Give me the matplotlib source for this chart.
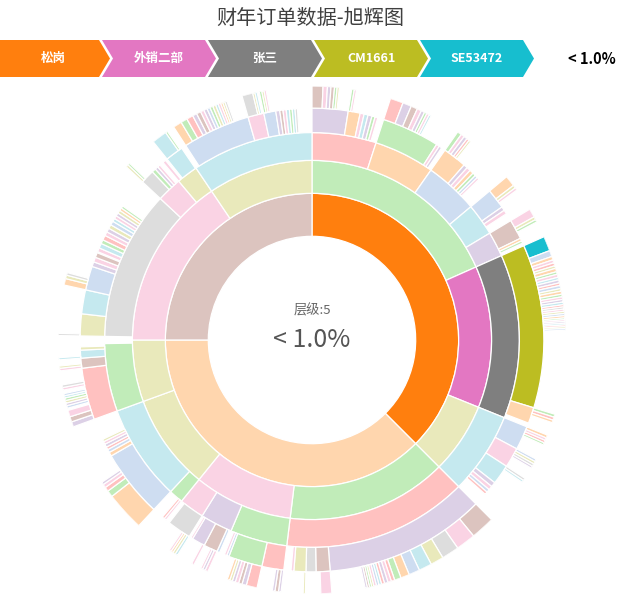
import numpy as np
import matplotlib.pyplot as plt
from matplotlib.colors import to_rgb
from matplotlib.patches import Polygon

plt.rcParams['font.family'] = ['Noto Sans CJK SC', 'DejaVu Sans']

# Text
title = '财年订单数据-旭辉图'
path_names = ['松岗', '外销二部', '张三', 'CM1661', 'SE53472']
path_keys = ['O', 'M', 'G', 'Y', 'C']
path_share = '< 1.0%'
depth_label = '层级:5'

# Colours: upper case = highlighted path, lower case = faded, '-' = dropped arc
palette = {'O': '#ff7f0e', 'M': '#e377c2', 'G': '#7f7f7f', 'Y': '#bcbd22', 'C': '#17becf',
           'p': '#ffbb78', 'g': '#98df8a', 's': '#ff9896', 'l': '#c5b0d5', 'r': '#c49c94',
           'k': '#f7b6d2', 'a': '#c7c7c7', 'y': '#dbdb8d', 'c': '#9edae5', 'b': '#aec7e8'}

# Each ring: one group of (degrees, colour) per parent arc of the ring inside
ring1 = [[(135, 'O'), (135, 'p'), (90, 'r')]]

ring2 = [
    [(66, 'g'), (46, 'M'), (23, 'y')],
    [(52, 'g'), (32, 'k'), (31, 'y'), (20, 'y')],
    [(56, 'k'), (34, 'y')],
]

ring3 = [
    [(18, 's'), (17, 'p'), (15, 'b'), (9, 'c'), (7, 'l')],
    [(46, 'G')],
    [(23, 'c')],
    [(52, 's')],
    [(16, 'g'), (9, 'l'), (7, 'k')],
    [(4, 'g'), (27, 'c')],
    [(19, 'g')],
    [(1, '-'), (42, 'a'), (7, 'k'), (6, 'y')],
    [(34, 'c')],
]

ring4 = [
    [(9, 'l'), (3, 'p'), (1, 'k'), (1, 'c'), (1, 'l'), (0.8, 'g'), (0.7, 'k')],
    [(14.5, 'g'), (0.8, 'k'), (0.7, 'l')],
    [(6, 'p'), (1, 'l'), (1, 'k'), (1, 'p'), (0.8, 'g'), (0.7, 'b'), (0.6, 'k')],
    [(5, 'b'), (1, 'l'), (1, 'k')],
    [(5, 'r'), (0.7, 'p'), (0.6, 'g')],
    [(41, 'Y'), (4, 'p')],
    [(6, 'b'), (5, 'k'), (5, 'c'), (1.2, 'l'), (1, 'k'), (0.8, 'b'), (0.7, 's')],
    [(40.5, 'l'), (3.5, 'r'), (2.5, 'a'), (3, 'y'), (0.7, 'k')],
    [(5.5, 's'), (8.5, 'g'), (0.6, 'b'), (0.6, 'k')],
    [(0.5, '-'), (0.7, 'b'), (3.5, 'r'), (3.3, 'l'), (0.5, 'k')],
    [(6, 'a')],
    [(0.6, 'k'), (0.6, 's')],
    [(17, 'b'), (1, 'p'), (0.8, 'b'), (0.7, 's'), (0.8, 'l'), (0.7, 'k'), (0.6, 'y')],
    [(13, 's'), (2.5, 'r'), (2, 'c'), (0.8, 'y')],
    [(5.5, 'y'), (6, 'c'), (6, 'b'), (1.2, 'l'), (1.2, 'k'), (1.2, 'r'), (0.3, '-'),
     (1, 'k'), (1.2, 'c'), (1, 'g'), (1.2, 's'), (1, 'k'), (1, 'l'), (1, 'y'), (1, 'b'),
     (0.8, 'c'), (0.8, 'k'), (0.8, 'l'), (0.8, 'y'), (0.7, 'p'), (0.6, 'g')],
    [(3.5, 'a'), (1, 'g'), (0.8, 'l'), (0.7, 'k')],
    [(0.8, 'k'), (0.5, '-'), (4.5, 'c')],
    [(1, '-'), (17, 'b'), (4, 'k'), (3, 'b'), (1, 'l'), (0.8, 'r'), (0.8, 'k'), (0.8, 'c'),
     (0.7, 'g'), (0.7, 'c'), (0.6, 'a')],
]

# outer ring: one group per ring-4 arc of at least 2 degrees
ring5 = [
    [(2.5, 'r'), (1, 'k'), (0.8, 'l'), (0.8, 'r'), (0.6, 'g'), (0.5, 'y')],
    [(0.6, 'g'), (0.5, 'k')],
    [(3, 's'), (2, 'l'), (1.5, 'r'), (1, 'k'), (0.8, 'l'), (0.6, 'g'), (0.6, 'k'), (0.5, 'c')],
    [(1, 'g'), (0.8, 'k'), (0.8, 'l'), (0.6, 's'), (0.5, 'y')],
    [(2.5, 'p'), (0.7, 'y'), (0.6, 'k')],
    [(2, 'k'), (0.7, 'y'), (0.6, 'g')],
    [(3.4, 'C'), (1.4, 'b'), (0.8, 'p'), (0.7, 'k'), (0.7, 's'), (0.6, 'y'), (0.8, 'p'),
     (0.6, 'g'), (0.7, 'k'), (0.6, 'c'), (0.7, 'l'), (0.6, 's'), (0.7, 'b'), (0.6, 'y'),
     (0.7, 'p'), (0.6, 'g'), (0.6, 'k'), (0.6, 'l'), (0.6, 'c'), (0.5, 's'), (0.5, 'a'),
     (0.5, 'k'), (0.5, 'y'), (0.5, 'b'), (0.5, 'p'), (0.4, 'g'), (0.4, 'k'), (0.4, 'l'),
     (0.4, 'c'), (0.4, 's'), (0.4, 'y'), (0.4, 'b')],
    [(0.7, 'g'), (0.7, 's'), (0.6, 'p')],
    [(0.7, 'p'), (0.6, 'k'), (0.6, 's'), (0.5, 'g')],
    [(0.6, 'b'), (0.6, 'y'), (0.6, 'a'), (0.5, 'l')],
    [(0.6, 'a'), (0.5, 'c')],
    [(5.5, 'r'), (4.5, 'k'), (4, 'a'), (3, 'y'), (3, 'c'), (2.5, 'b'), (2, 'p'), (1.5, 'g'),
     (0.8, 's'), (0.8, 'k'), (0.8, 'l'), (0.7, 's'), (0.6, 'c'), (0.6, 'b'), (0.6, 'k'),
     (0.5, 'y'), (0.5, 'g'), (0.5, 'r'), (0.5, 'l')],
    [(2.5, 'k')],
    [],
    [(0.5, 'y')],
    [(0.6, 'l'), (0.8, 'r'), (0.6, 'l')],
    [(2.5, 's'), (1, 'l'), (0.8, 'r'), (0.8, 'k'), (0.7, 'l'), (0.6, 'y'), (0.6, 'p')],
    [(0.7, 'k'), (0.6, 'l'), (0.5, 'k')],
    [(0.6, 'k')],
    [(0.6, 'c'), (0.6, 'y'), (0.5, 'p'), (0.5, 'k')],
    [(9, 'p'), (1.5, 'g'), (1, 's'), (0.8, 'k'), (0.6, 'l')],
    [(1.2, 'l'), (1.2, 'r'), (1.5, 'k'), (0.5, '-'), (0.6, 'b'), (0.6, 'l'), (0.6, 'y'),
     (0.6, 'g'), (0.5, 'c'), (0.5, 'b'), (0.8, '-'), (0.6, 'k'), (0.6, 'a')],
    [(0.6, 'k'), (0.5, 'y')],
    [(0.5, 'c')],
    [(0.5, 'a')],
    [],
    [(1.5, 'p'), (0.8, 'y'), (0.6, 'a')],
    [(0.6, 'y'), (0.5, 'g')],
    [(3.5, 'c'), (0.5, 'g')],
    [(2, 'p'), (1.5, 'g'), (1.5, 's'), (1, 'l'), (1, 'r'), (0.8, 'k'), (0.8, 'l'), (0.7, 'b'),
     (0.7, 'g'), (0.7, 'y'), (0.6, 'c'), (0.6, 'k'), (0.5, 'p'), (0.5, 'y'), (0.5, 'a')],
    [(2.5, 'a'), (0.5, 'y'), (0.5, 'c')],
    [(0.6, 'g'), (0.5, 'y'), (0.5, 'k')],
]


def colour(key):
    rgb = np.array(to_rgb(palette[key]))
    if key.islower():
        rgb = rgb * 0.6 + 0.4
    return rgb


fig = plt.figure(figsize=(6.19, 6.05), dpi=100)

# sunburst, centre at (312, 340) px, outer radius 254 px
W, H = 619, 605
cx, cy, R = 312, 340, 254
ax = fig.add_axes([(cx - R) / W, (H - cy - R) / H, 2 * R / W, 2 * R / H], projection='polar')
ax.set_theta_zero_location('N')
ax.set_theta_direction(-1)
ax.set_ylim(0, 1)
ax.axis('off')

radii = np.sqrt(np.arange(1, 7) / 6)
parents = [(0, 360)]
for depth, groups in enumerate([ring1, ring2, ring3, ring4, ring5]):
    arcs = []
    for (p_start, p_span), kids in zip(parents, groups):
        pos = p_start
        for span, key in kids:
            if key != '-':
                ax.bar(np.deg2rad(pos), radii[depth + 1] - radii[depth], width=np.deg2rad(span),
                       bottom=radii[depth], align='edge', color=colour(key),
                       edgecolor='white', linewidth=0.9)
                if span >= 2:
                    arcs.append((pos, span))
            pos += span
    parents = arcs

# overlay in pixel coordinates for title, breadcrumbs and centre text
ov = fig.add_axes([0, 0, 1, 1])
ov.set_xlim(0, W)
ov.set_ylim(H, 0)
ov.axis('off')

ov.text(310, 18, title, ha='center', va='center', fontsize=14.5, color='#404040')

bw, bt, bh, top, pitch, x0 = 103, 11, 37, 40, 106, -4
for i, (name, key) in enumerate(zip(path_names, path_keys)):
    x = x0 + i * pitch
    pts = [(x, top), (x + bw, top), (x + bw + bt, top + bh / 2), (x + bw, top + bh), (x, top + bh)]
    if i > 0:
        pts.append((x + bt, top + bh / 2))
    ov.add_patch(Polygon(pts, closed=True, facecolor=palette[key], edgecolor='none'))
    ov.text(x + (bw + bt) / 2, top + bh / 2, name, ha='center', va='center',
            fontsize=9, color='white', fontweight='bold')
ov.text(592, top + bh / 2, path_share, ha='center', va='center', fontsize=10.5,
        color='black', fontweight='semibold')

ov.text(cx, 311, depth_label, ha='center', va='center', fontsize=9.5, color='#666666')
ov.text(cx, 340, path_share, ha='center', va='center', fontsize=18, color='#555555')

fig.savefig('out.png', dpi=100)
